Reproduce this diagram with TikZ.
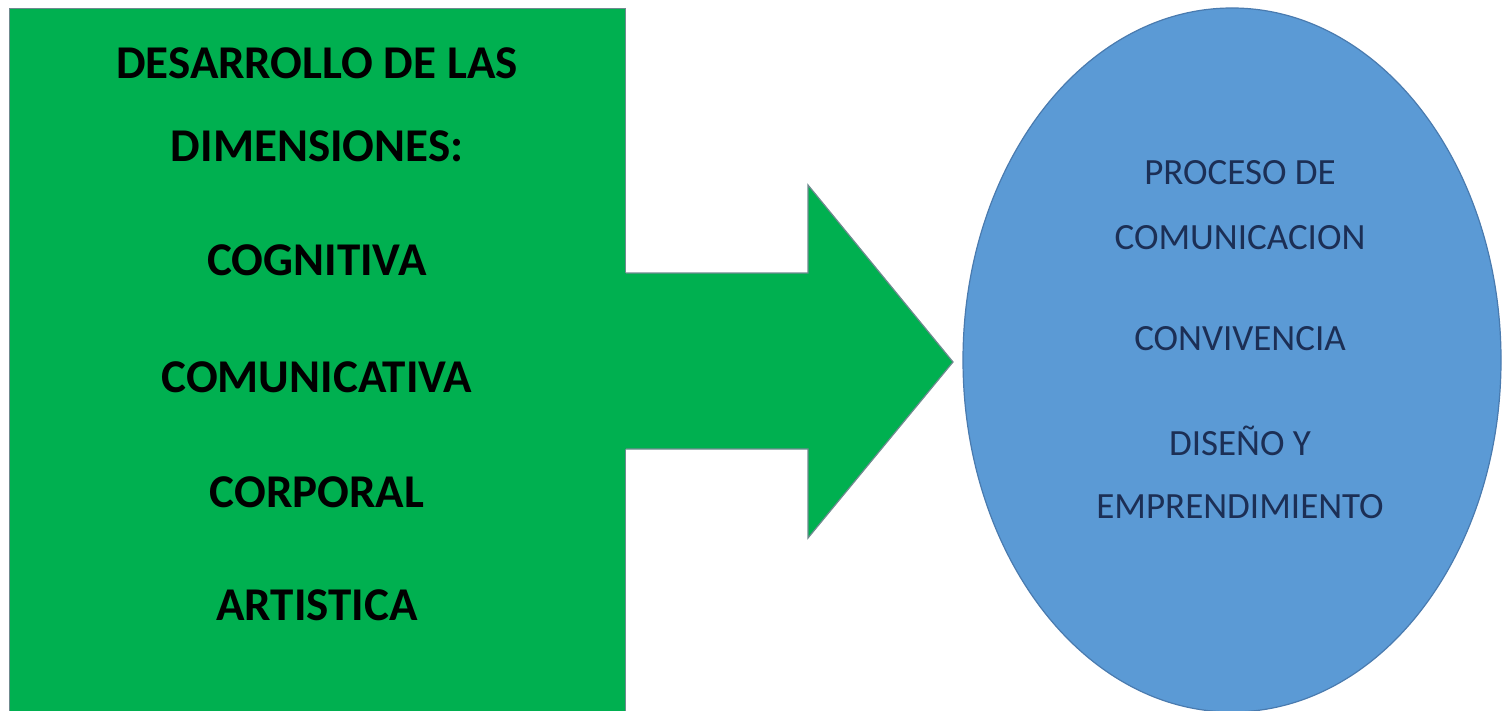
\documentclass[tikz,border=0pt]{standalone}
\usepackage{fontspec}
\setmainfont{Carlito}
\usetikzlibrary{shapes.geometric}
\definecolor{boxgreen}{HTML}{00B050}
\definecolor{ovalblue}{HTML}{5B9AD5}
\definecolor{edgegray}{HTML}{6F8A8F}
\definecolor{ovaledge}{HTML}{4A7BAF}
\definecolor{navytext}{HTML}{1C2F55}
\tikzset{
  greenlbl/.style={font=\fontsize{47}{52}\selectfont\bfseries, text=black, inner sep=0pt, anchor=base},
  bluelbl/.style={font=\fontsize{37}{42}\selectfont, text=navytext, inner sep=0pt, anchor=base},
}
\begin{document}
\begin{tikzpicture}[x=1pt,y=-1pt]
\useasboundingbox (0,0) rectangle (1503,711);
\clip (0,0) rectangle (1503,711);
% green box
\node[draw=edgegray, line width=1.2pt, fill=boxgreen, rectangle, inner sep=0pt,
      minimum width=616pt, minimum height=720pt, anchor=north west] (box) at (9,8) {};
% arrow
\fill[boxgreen] (615,273) -- (808,273) -- (808,185) -- (953,362) -- (808,538) -- (808,449) -- (615,449) -- cycle;
\draw[edgegray, line width=1.2pt, line join=miter] (box.east |- 0,273) -- (808,273) -- (808,185) -- (953,362) -- (808,538) -- (808,449) -- (box.east |- 0,449);
% blue oval
\node[ellipse, draw=ovaledge, line width=1.2pt, fill=ovalblue, inner sep=0pt,
      minimum width=538pt, minimum height=704pt] (oval) at (1232,360) {};
% green labels
\node[greenlbl] (g1) at (317,79) {DESARROLLO DE LAS};
\node[greenlbl] (g2) at (317,162) {DIMENSIONES:};
\node[greenlbl] (g3) at (317,275) {COGNITIVA};
\node[greenlbl] (g4) at (317,392) {COMUNICATIVA};
\node[greenlbl] (g5) at (317,507) {CORPORAL};
\node[greenlbl] (g6) at (317,620) {ARTISTICA};
% blue labels
\node[bluelbl] (b1) at (1240,185) {PROCESO DE};
\node[bluelbl] (b2) at (1240,250) {COMUNICACION};
\node[bluelbl] (b3) at (1240,350) {CONVIVENCIA};
\node[bluelbl] (b4) at (1240,455) {DISEÑO Y};
\node[bluelbl] (b5) at (1240,518) {EMPRENDIMIENTO};
\end{tikzpicture}
\end{document}
